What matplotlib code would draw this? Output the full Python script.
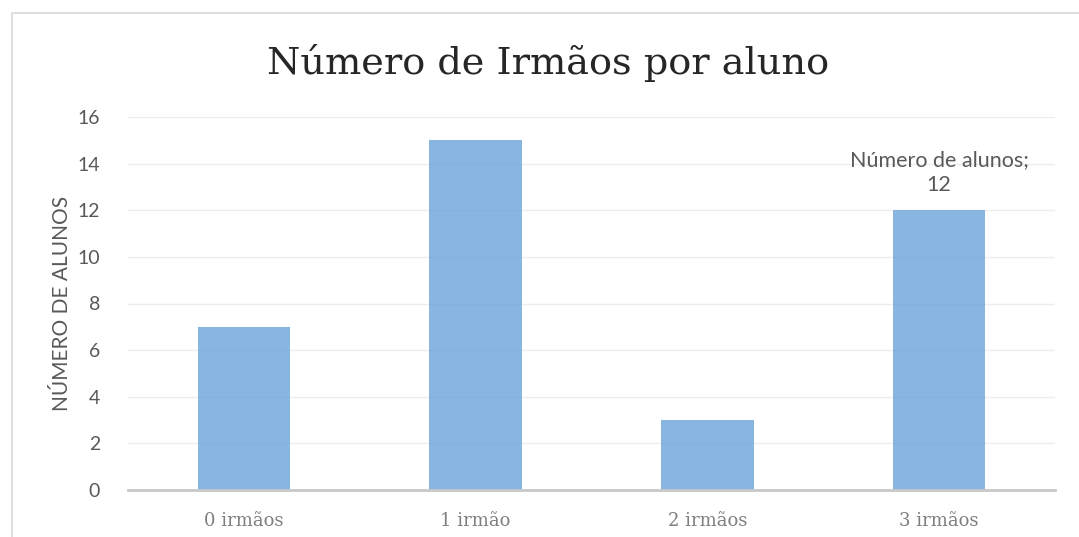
import numpy as np
import matplotlib.pyplot as plt
from matplotlib.patches import Rectangle

# Data
categories = ['0 irmãos', '1 irmão', '2 irmãos', '3 irmãos']
alunos = [7, 15, 3, 12]
yticks = [0, 2, 4, 6, 8, 10, 12, 14, 16]

fig = plt.figure(figsize=(10.79, 5.37), dpi=100)
ax = fig.add_axes([128/1079, 1 - 490/537, 927/1079, 373/537])

x = np.arange(len(categories))
ax.bar(x, alunos, width=0.4, color='#74A8DD', alpha=0.85, zorder=3)

ax.set_xlim(-0.5, 3.5)
ax.set_ylim(0, 16)
ax.set_yticks(yticks)
ax.set_xticks(x)
ax.set_xticklabels(categories, family='DejaVu Serif', fontsize=13, color='#7F7F7F')
for lbl in ax.get_yticklabels():
    lbl.set_family('Lato')
    lbl.set_fontsize(14)
    lbl.set_color('#595959')
ax.tick_params(axis='both', length=0)
ax.tick_params(axis='y', pad=20)
ax.tick_params(axis='x', pad=16)

ax.grid(axis='y', color='#EDEDED', linewidth=1, zorder=0)
for s in ['top', 'right', 'left']:
    ax.spines[s].set_visible(False)
ax.spines['bottom'].set_color('#C8C8C8')
ax.spines['bottom'].set_linewidth(2)
ax.spines['bottom'].set_zorder(4)

ax.set_ylabel('NÚMERO DE ALUNOS', family='Lato', fontsize=15, color='#595959')
ax.yaxis.set_label_coords((72 - 128)/927, 0.5)

# data label on last bar
ax.annotate(f'Número de alunos;\n{alunos[3]}', xy=(x[3], alunos[3]),
            xytext=(0, 11), textcoords='offset points', ha='center', va='bottom',
            family='Lato', fontsize=15.5, color='#595959', linespacing=1.3)

fig.text(548/1079, 1 - 63/537, 'Número de Irmãos por aluno', ha='center', va='center',
         family='DejaVu Serif', fontsize=27.5, color='#262626')

# chart border
fig.patches.append(Rectangle((12/1079, -0.05), 1.2, 1 - 13/537 + 0.05,
                             transform=fig.transFigure, fill=False,
                             edgecolor='#D9D9D9', linewidth=1.2))

fig.savefig('out.png', dpi=100)
